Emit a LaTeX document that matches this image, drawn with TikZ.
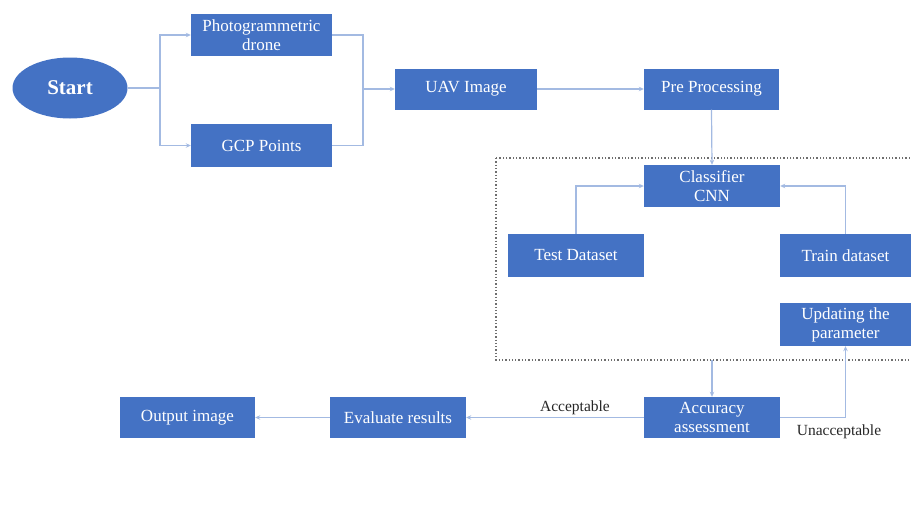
\documentclass[tikz,border=0pt]{standalone}
\usepackage{fontspec}
\setmainfont{Liberation Serif}
\usetikzlibrary{arrows.meta,shapes.geometric}
\definecolor{boxblue}{HTML}{4472C4}
\definecolor{lineblue}{HTML}{A3BAE2}
\definecolor{dotgray}{HTML}{6E6E6E}
\begin{document}
\begin{tikzpicture}[x=1pt,y=-1pt,
  blk/.style={draw=none, fill=boxblue, text=white, align=center,
    font=\fontsize{17}{19}\selectfont, inner sep=0pt},
  wire/.style={draw=lineblue, line width=1.2pt},
  conn/.style={wire, -{Stealth[length=5pt,width=4.5pt]}},
  lbl/.style={font=\fontsize{15.5}{17}\selectfont, text=black!85, inner sep=1pt}]
\useasboundingbox (0,0) rectangle (911,514);

% nodes
\node[blk, ellipse, minimum width=115pt, minimum height=61pt,
  font=\bfseries\fontsize{21}{23}\selectfont] (start) at (70,88) {Start};
\node[blk, minimum width=141pt, minimum height=42pt] (drone) at (261.5,35) {Photogrammetric\\drone};
\node[blk, minimum width=141pt, minimum height=43pt] (gcp) at (261.5,145.5) {GCP Points};
\node[blk, minimum width=142pt, minimum height=41pt] (uav) at (466,89) {UAV Image};
\node[blk, minimum width=135pt, minimum height=41pt] (pre) at (711.5,89) {Pre Processing};
\node[blk, minimum width=136pt, minimum height=42pt] (cls) at (712,186) {Classifier\\CNN};
\node[blk, minimum width=136pt, minimum height=43pt] (test) at (576,255.5) {Test Dataset};
\node[blk, minimum width=131pt, minimum height=43pt] (train) at (845.5,255.5) {Train dataset};
\node[blk, minimum width=131pt, minimum height=43pt] (upd) at (845.5,324.5) {Updating the\\parameter};
\node[blk, minimum width=136pt, minimum height=41pt] (acc) at (712,417.5) {Accuracy\\assessment};
\node[blk, minimum width=136pt, minimum height=41pt] (eval) at (398,417.5) {Evaluate results};
\node[blk, minimum width=135pt, minimum height=41pt] (out) at (187.5,417.5) {Output image};

% group frame
\coordinate (gtl) at (496,158);
\coordinate (gbr) at (925,360);
\draw[dotgray, line width=1.3pt, dotted] (gtl) rectangle (gbr);
\coordinate (gb) at (712,360);

% connectors
\coordinate (split) at (160,88);
\coordinate (join) at (363,89);
\draw[wire] (start.east) -- (split);
\draw[conn] (split) |- (drone.west);
\draw[conn] (split) |- (gcp.west);
\draw[wire] (drone.east) -| (join);
\draw[wire] (gcp.east) -| (join);
\draw[conn] (join) -- (uav.west);
\draw[conn] (uav.east) -- (pre.west);
\draw[conn] (pre.south) -- (cls.north);
\draw[conn] (test.north) |- (cls.west);
\draw[conn] (train.north) |- (cls.east);
\draw[conn] (gb) -- (acc.north);
\draw[conn] (acc.west) -- (eval.east);
\draw[conn] (eval.west) -- (out.east);
\draw[conn] (acc.east) -| (upd.south);

% labels
\node[lbl] (accl) at (575,408) {Acceptable};
\node[lbl] (unaccl) at (839,432) {Unacceptable};
\end{tikzpicture}
\end{document}
